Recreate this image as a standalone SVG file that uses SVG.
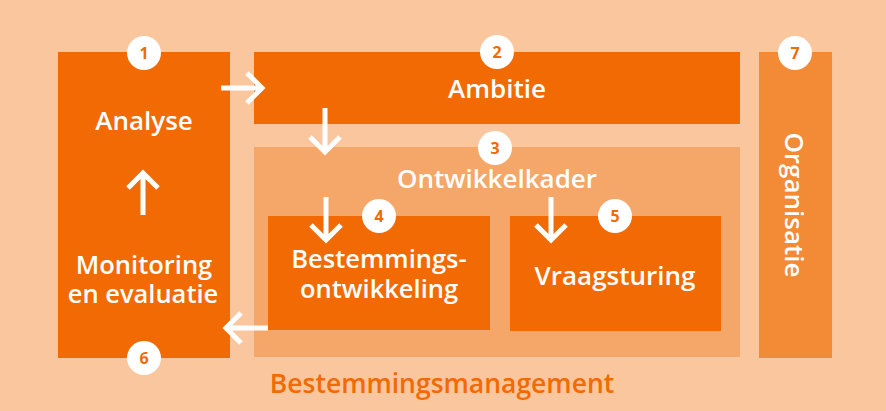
<svg xmlns="http://www.w3.org/2000/svg" width="886" height="411" viewBox="0 0 886 411">
<style>
.bg{fill:#FAC69E}
.main{fill:#F26A04}
.light{fill:#F5A669}
.mid{fill:#F38A35}
.lbl{font-family:"Open Sans","Liberation Sans",sans-serif;font-weight:600;font-size:26px;fill:#FFFFFF;text-anchor:middle}
.lbl2{font-family:"Open Sans","Liberation Sans",sans-serif;font-weight:600;font-size:25.5px;fill:#FFFFFF;text-anchor:middle}
.title{font-family:"Open Sans","Liberation Sans",sans-serif;font-weight:600;font-size:26.5px;fill:#F26A04;text-anchor:middle}
.badge circle{fill:#FFFFFF}
.badge text{font-family:"Open Sans","Liberation Sans",sans-serif;font-weight:700;font-size:16px;fill:#F26A04;text-anchor:middle}
.arr{stroke:#FFFFFF;stroke-width:5;fill:none;stroke-linecap:butt;stroke-linejoin:miter}
</style>
<rect class="bg" x="0" y="0" width="886" height="411"/>

<g id="node-analyse">
<rect class="main" x="58" y="52" width="172" height="306"/>
<text class="lbl" x="144" y="130">Analyse</text>
<text class="lbl2" x="144" y="274">Monitoring</text>
<text class="lbl2" x="143" y="303">en evaluatie</text>
</g>

<g id="node-ambitie">
<rect class="main" x="254" y="52" width="486" height="72"/>
<text class="lbl" x="497" y="98">Ambitie</text>
</g>

<g id="node-ontwikkelkader">
<rect class="light" x="254" y="147" width="486" height="210"/>
<text class="lbl" x="497" y="188">Ontwikkelkader</text>
</g>

<g id="node-bestemmingsontwikkeling">
<rect class="main" x="268" y="216" width="222" height="114"/>
<text class="lbl2" x="379" y="268">Bestemmings-</text>
<text class="lbl2" x="379" y="298">ontwikkeling</text>
</g>

<g id="node-vraagsturing">
<rect class="main" x="510" y="216" width="211" height="115"/>
<text class="lbl" x="615" y="285">Vraagsturing</text>
</g>

<g id="node-organisatie">
<rect class="mid" x="759" y="52" width="73" height="306"/>
<text class="lbl" transform="translate(785,205) rotate(90)" x="0" y="0">Organisatie</text>
</g>

<g id="title">
<text class="title" x="442" y="393">Bestemmingsmanagement</text>
</g>

<g id="connectors">
<path class="arr" d="M221 88 H262 M247 73 L262 88 L247 103"/>
<path class="arr" d="M325 108 V151 M310 137 L325 152 L340 137"/>
<path class="arr" d="M326 197 V239 M311 225 L326 240 L341 225"/>
<path class="arr" d="M551 197 V239 M536 225 L551 240 L566 225"/>
<path class="arr" d="M268 328 H226 M241 313 L226 328 L241 343"/>
<path class="arr" d="M143 215 V173 M128 188 L143 173 L158 188"/>
</g>

<g id="badges" class="badge">
<g id="badge-1"><circle cx="144" cy="53" r="17"/><text x="144" y="59">1</text></g>
<g id="badge-2"><circle cx="497" cy="52" r="17"/><text x="497" y="58">2</text></g>
<g id="badge-3"><circle cx="495" cy="148" r="17"/><text x="495" y="154">3</text></g>
<g id="badge-4"><circle cx="379" cy="216" r="17"/><text x="379" y="222">4</text></g>
<g id="badge-5"><circle cx="615" cy="216" r="17"/><text x="615" y="222">5</text></g>
<g id="badge-6"><circle cx="144" cy="358" r="17"/><text x="144" y="364">6</text></g>
<g id="badge-7"><circle cx="795" cy="53" r="17"/><text x="795" y="59">7</text></g>
</g>
</svg>
